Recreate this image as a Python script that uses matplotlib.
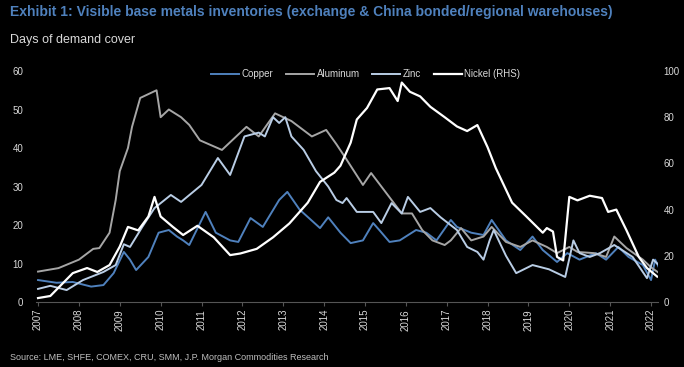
import matplotlib
matplotlib.use("Agg")
import matplotlib.pyplot as plt

plt.rcParams['font.family'] = ['Liberation Sans Narrow', 'Liberation Sans', 'DejaVu Sans']

# ---------------- data ----------------
years = list(range(2007, 2023))
year_labels = [str(y) for y in years]
left_ticks = [0, 10, 20, 30, 40, 50, 60]
right_ticks = [0, 20, 40, 60, 80, 100]

copper_t = [2007.0, 2007.45, 2007.85, 2008.3, 2008.6, 2008.85, 2009.1, 2009.25, 2009.4, 2009.7,
            2009.95, 2010.2, 2010.4, 2010.55, 2010.7, 2011.1, 2011.35, 2011.7, 2011.9, 2012.2,
            2012.5, 2012.9, 2013.1, 2013.4, 2013.9, 2014.1, 2014.4, 2014.65, 2014.95, 2015.2,
            2015.35, 2015.6, 2015.85, 2016.25, 2016.5, 2016.75, 2017.1, 2017.25, 2017.6, 2017.9,
            2018.1, 2018.45, 2018.8, 2019.1, 2019.35, 2019.7, 2019.95, 2020.25, 2020.65, 2020.9,
            2021.2, 2021.45, 2021.8, 2022.0, 2022.1, 2022.2]
copper = [5.7, 5.0, 5.2, 4.0, 4.4, 7.5, 13.0, 11.0, 8.3, 11.7,
          18.0, 18.7, 17.0, 16.0, 14.8, 23.4, 18.0, 16.0, 15.6, 21.8,
          19.5, 26.5, 28.6, 24.0, 19.2, 22.0, 18.0, 15.3, 16.0, 20.5,
          18.7, 15.6, 16.0, 18.7, 18.0, 16.0, 21.3, 19.5, 18.0, 17.4,
          21.3, 16.0, 13.5, 17.0, 13.5, 10.4, 12.7, 11.0, 12.7, 11.0,
          14.3, 11.7, 9.6, 5.7, 11.0, 8.8]

aluminum_t = [2007.0, 2007.5, 2008.0, 2008.35, 2008.5, 2008.75, 2008.9, 2009.0, 2009.2, 2009.3,
              2009.5, 2009.9, 2010.0, 2010.2, 2010.5, 2010.7, 2010.96, 2011.5, 2012.1, 2012.4,
              2012.8, 2013.2, 2013.7, 2014.05, 2014.3, 2014.55, 2014.95, 2015.15, 2015.4, 2015.65,
              2015.9, 2016.15, 2016.4, 2016.65, 2016.95, 2017.1, 2017.35, 2017.6, 2017.9, 2018.1,
              2018.45, 2018.8, 2019.1, 2019.45, 2019.7, 2020.0, 2020.2, 2020.6, 2020.9, 2021.1,
              2021.4, 2021.8, 2022.0, 2022.2]
aluminum = [7.9, 8.8, 11.0, 13.8, 14.0, 18.0, 26.5, 34.0, 40.0, 45.5,
            53.0, 55.0, 48.0, 50.0, 48.0, 46.0, 42.0, 39.5, 45.5, 43.0,
            49.0, 47.0, 43.0, 44.7, 41.0, 37.0, 30.4, 33.5, 30.0, 26.5,
            23.0, 23.0, 18.7, 16.0, 14.8, 16.0, 19.2, 16.0, 17.0, 19.5,
            15.6, 14.3, 16.0, 14.3, 12.7, 14.3, 13.0, 12.7, 11.7, 17.0,
            14.0, 11.0, 9.0, 7.5]

zinc_t = [2007.0, 2007.3, 2007.7, 2008.1, 2008.6, 2008.9, 2009.1, 2009.25, 2009.55, 2009.85,
          2010.25, 2010.5, 2011.0, 2011.4, 2011.7, 2012.05, 2012.4, 2012.55, 2012.75, 2012.9,
          2013.05, 2013.2, 2013.5, 2013.8, 2014.1, 2014.3, 2014.45, 2014.55, 2014.8, 2015.2,
          2015.4, 2015.65, 2015.9, 2016.05, 2016.35, 2016.6, 2016.85, 2017.25, 2017.5, 2017.75,
          2017.9, 2018.05, 2018.15, 2018.45, 2018.7, 2019.1, 2019.5, 2019.9, 2020.1, 2020.25,
          2020.5, 2020.75, 2021.1, 2021.55, 2021.9, 2022.05, 2022.2]
zinc = [3.4, 4.2, 3.1, 5.7, 7.8, 9.6, 15.0, 14.3, 19.5, 24.4,
        27.8, 26.0, 30.4, 37.4, 33.0, 43.0, 44.0, 43.0, 48.0, 46.5,
        48.0, 43.0, 39.5, 34.0, 30.0, 26.5, 25.7, 27.0, 23.4, 23.4,
        20.5, 25.7, 23.0, 27.3, 23.4, 24.4, 22.0, 18.7, 14.3, 13.0,
        11.0, 16.0, 18.7, 12.0, 7.5, 9.6, 8.5, 6.5, 16.0, 12.7,
        11.7, 12.7, 14.8, 11.7, 6.2, 11.0, 9.5]

nickel_t = [2007.0, 2007.3, 2007.6, 2007.85, 2008.2, 2008.45, 2008.75, 2009.0, 2009.2, 2009.45,
            2009.7, 2009.85, 2010.0, 2010.3, 2010.55, 2010.9, 2011.3, 2011.7, 2011.95, 2012.35,
            2012.75, 2013.15, 2013.6, 2013.9, 2014.25, 2014.4, 2014.65, 2014.8, 2015.05, 2015.3,
            2015.6, 2015.8, 2015.9, 2016.1, 2016.35, 2016.6, 2016.95, 2017.25, 2017.5, 2017.75,
            2018.0, 2018.2, 2018.6, 2018.95, 2019.35, 2019.45, 2019.6, 2019.7, 2019.85, 2020.0,
            2020.2, 2020.5, 2020.8, 2020.95, 2021.15, 2021.4, 2021.7, 2021.9, 2022.15]
nickel = [1.7, 2.6, 8.0, 12.5, 14.7, 13.0, 16.0, 24.0, 32.5, 31.0,
          37.0, 45.5, 37.0, 32.5, 29.0, 33.0, 28.0, 20.3, 21.0, 23.0,
          28.0, 34.0, 43.0, 52.0, 56.0, 59.0, 69.0, 79.0, 84.0, 92.0,
          92.6, 87.0, 95.0, 91.0, 89.0, 84.5, 80.0, 76.0, 74.0, 76.6,
          67.0, 58.0, 43.0, 37.0, 30.0, 32.0, 30.5, 19.5, 18.0, 45.5,
          44.0, 46.0, 45.0, 39.0, 40.0, 31.0, 19.5, 14.7, 11.0]

# ---------------- styling ----------------
BG = '#000000'
TITLE_C = '#4f81bd'
COPPER_C = '#4f81bd'
ALU_C = '#a6a6a6'
ZINC_C = '#b9cde5'
NICKEL_C = '#ffffff'
TXT = '#d9d9d9'

W, H = 684, 367
fig = plt.figure(figsize=(W / 100, H / 100), dpi=100, facecolor=BG)
ax = fig.add_axes([36 / W, 1 - 302 / H, (658 - 36) / W, (302 - 71) / H], facecolor=BG)
ax2 = ax.twinx()

l1, = ax.plot(copper_t, copper, color=COPPER_C, lw=1.4, label='Copper')
l2, = ax.plot(aluminum_t, aluminum, color=ALU_C, lw=1.4, label='Aluminum')
l3, = ax.plot(zinc_t, zinc, color=ZINC_C, lw=1.4, label='Zinc')
l4, = ax2.plot(nickel_t, nickel, color=NICKEL_C, lw=1.6, label='Nickel (RHS)')

ax.set_xlim(2006.95, 2022.17)
ax.set_ylim(0, 60)
ax2.set_ylim(0, 100)
ax.set_yticks(left_ticks)
ax2.set_yticks(right_ticks)
ax.set_xticks(years)
ax.set_xticklabels(year_labels, rotation=90, fontsize=7, color=TXT)
ax.tick_params(axis='x', length=3, color='#555555', pad=2)
ax.tick_params(axis='y', length=0, labelsize=7, colors=TXT, pad=9)
ax2.tick_params(axis='y', length=0, labelsize=7, colors=TXT, pad=4)

for a in (ax, ax2):
    for s in ('top', 'left', 'right'):
        a.spines[s].set_visible(False)
ax2.spines['bottom'].set_visible(False)
ax.spines['bottom'].set_color('#555555')
ax.spines['bottom'].set_linewidth(0.8)

leg = ax.legend(handles=[l1, l2, l3, l4], loc='upper center', bbox_to_anchor=(0.53, 1.045),
                ncol=4, frameon=False, fontsize=7, handlelength=2.9, columnspacing=1.3,
                handletextpad=0.25)
for t in leg.get_texts():
    t.set_color(TXT)

fig.text(10 / W, 1 - 12 / H, 'Exhibit 1: Visible base metals inventories (exchange & China bonded/regional warehouses)',
         color=TITLE_C, fontsize=10, fontweight='bold', va='center', ha='left',
         family=['Liberation Sans', 'DejaVu Sans'])
fig.text(10 / W, 1 - 40 / H, 'Days of demand cover', color=TXT, fontsize=9, va='center', ha='left')
fig.text(10 / W, 1 - 357 / H, 'Source: LME, SHFE, COMEX, CRU, SMM, J.P. Morgan Commodities Research',
         color='#bfbfbf', fontsize=6.5, va='center', ha='left')

fig.savefig('out.png', dpi=100, facecolor=BG)
